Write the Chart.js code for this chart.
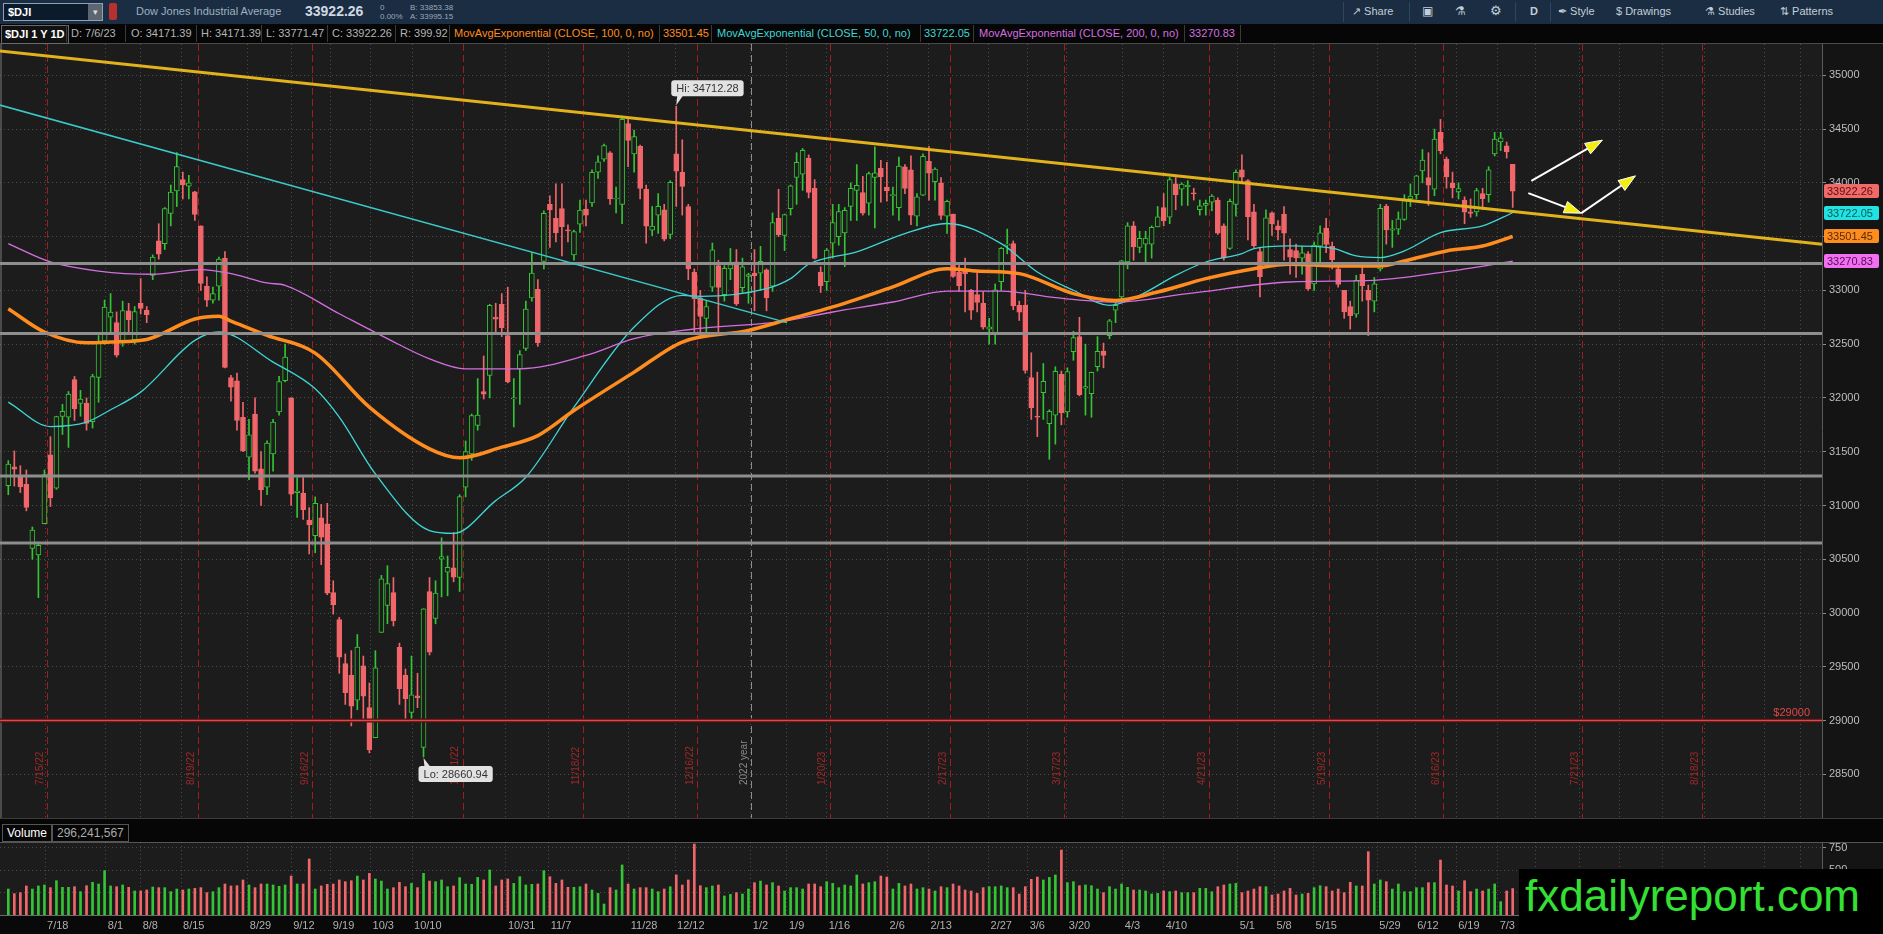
<!DOCTYPE html>
<html>
<head>
<meta charset="utf-8">
<title>$DJI 1 Y 1D</title>
<script src="https://cdn.jsdelivr.net/npm/chart.js@4.4.1/dist/chart.umd.min.js"></script>
<style>
  html, body { margin: 0; padding: 0; background: #000; }
  body { width: 1883px; height: 934px; overflow: hidden; position: relative; font-family: "Liberation Sans", Arial, sans-serif; }
  #toolbar { position: absolute; left: 0; top: 0; width: 1883px; height: 24px; background: #1a2d42; color: #c3cdd8; font-size: 11px; }
  #toolbar span, #toolbar div { position: absolute; white-space: nowrap; }
  .sym { left: 3px; top: 3px; width: 98px; height: 16px; background: #0c1b2b; border: 1px solid #8fa3b6; }
  .sym b { position: absolute; left: 4px; top: 2px; color: #fff; font-size: 11px; }
  .dd { right: 0; top: 0; width: 14px; height: 16px; background: #5d6670; color: #ddd; font-size: 9px; text-align: center; line-height: 16px; }
  .flag { left: 109px; top: 3px; width: 8px; height: 17px; background: #b8302f; border-radius: 2px; }
  .small { font-size: 8px; line-height: 9px; color: #9aa9b8; top: 3px; }
  .sep { top: 2px; width: 1px; height: 20px; background: #2e4660; }
  #hdr { position: absolute; left: 0; top: 24px; width: 1883px; height: 19px; background: #060606; border-bottom: 1px solid #4a4a4a; font-size: 11px; color: #b4b4b4; }
  #hdr span { position: absolute; top: 3px; white-space: nowrap; }
  #hdr i { position: absolute; top: 1px; width: 1px; height: 17px; background: #3a3a3a; }
  .titlebox { left: 1px !important; top: 1px !important; padding: 2px 3px; height: 13px; border: 1px solid #6a6a6a; color: #fff; font-weight: bold; background: #111; }
  #price { position: absolute; left: 0; top: 44px; }
  #volhdr { position: absolute; left: 0; top: 818px; width: 1883px; height: 24px; background: #060606; border-top: 1px solid #3c3c3c; }
  #volhdr span { position: absolute; top: 5px; height: 16px; line-height: 16px; font-size: 12px; padding: 0 4px; border: 1px solid #555; }
  #vol { position: absolute; left: 0; top: 842px; }
  #wm { position: absolute; left: 1519px; top: 869px; width: 364px; height: 65px; background: #000; }
  #wm span { position: absolute; left: 6px; top: 5px; font-size: 44px; line-height: 44px; color: #34e034; white-space: nowrap; }
</style>
</head>
<body>
<div id="toolbar">
  <div class="sym"><b>$DJI</b><div class="dd">&#9662;</div></div>
  <div class="flag"></div>
  <span style="left:136px; top:5px; color:#9fb0c0;">Dow Jones Industrial Average</span>
  <span style="left:305px; top:3px; font-size:14px; font-weight:bold; color:#cfd8e2;">33922.26</span>
  <span class="small" style="left:380px;">0<br>0.00%</span>
  <span class="small" style="left:410px;">B: 33853.38<br>A: 33995.15</span>
  <i class="sep" style="position:absolute; left:1343px;"></i>
  <span style="left:1352px; top:5px;">&#8599; Share</span>
  <i class="sep" style="position:absolute; left:1409px;"></i>
  <span style="left:1422px; top:4px; font-size:12px;">&#9635;</span>
  <span style="left:1455px; top:4px; font-size:12px;">&#9879;</span>
  <span style="left:1490px; top:3px; font-size:13px;">&#9881;</span>
  <i class="sep" style="position:absolute; left:1515px;"></i>
  <span style="left:1530px; top:5px; font-weight:bold;">D</span>
  <i class="sep" style="position:absolute; left:1550px;"></i>
  <span style="left:1558px; top:5px;">&#10002; Style</span>
  <span style="left:1616px; top:5px;">$ Drawings</span>
  <span style="left:1705px; top:5px;">&#9879; Studies</span>
  <span style="left:1780px; top:5px;">&#8645; Patterns</span>
</div>
<div id="hdr">
  <span class="titlebox">$DJI 1 Y 1D</span>
  <i style="left:66px"></i>
  <span style="left:71px">D: 7/6/23</span>
  <i style="left:125px"></i>
  <span style="left:131px">O: 34171.39</span>
  <i style="left:196px"></i>
  <span style="left:201px">H: 34171.39</span>
  <i style="left:261px"></i>
  <span style="left:266px">L: 33771.47</span>
  <i style="left:327px"></i>
  <span style="left:332px">C: 33922.26</span>
  <i style="left:395px"></i>
  <span style="left:400px">R: 399.92</span>
  <i style="left:449px"></i>
  <span style="left:454px; color:#ff8c1f">MovAvgExponential (CLOSE, 100, 0, no)</span>
  <i style="left:659px"></i>
  <span style="left:663px; color:#ff8c1f">33501.45</span>
  <i style="left:711px"></i>
  <span style="left:717px; color:#3fd6d6">MovAvgExponential (CLOSE, 50, 0, no)</span>
  <i style="left:920px"></i>
  <span style="left:924px; color:#3fd6d6">33722.05</span>
  <i style="left:973px"></i>
  <span style="left:979px; color:#d46ee0">MovAvgExponential (CLOSE, 200, 0, no)</span>
  <i style="left:1184px"></i>
  <span style="left:1189px; color:#d46ee0">33270.83</span>
  <i style="left:1240px"></i>
</div>
<canvas id="price" width="1883" height="774"></canvas>
<div id="volhdr">
  <span style="left:2px; color:#fff;">Volume</span>
  <span style="left:52px; color:#aaa;">296,241,567</span>
</div>
<canvas id="vol" width="1883" height="92"></canvas>
<div id="wm"><span>fxdailyreport.com</span></div>

<script>
// daily bars, 7/7/22 .. 7/6/23 (bar index = position in the arrays)
const opens = [
  31185, 31360, 31280, 31200, 30600, 30540, 30830, 31470, 31160, 31827,
  31820, 32170, 31950, 31950, 31780, 32190, 32530, 32750, 32700, 32520,
  32810, 32540, 32880, 32815, 33140, 33460, 33435, 33715, 33926, 34030,
  33970, 33916, 33600, 33040, 32910, 33040, 33300, 32190, 32160, 31820,
  31450, 31850, 31340, 31170, 31480, 31870, 32160, 32000, 31120, 31116,
  30865, 30720, 30884, 30830, 30190, 29940, 29530, 29420, 29190, 29510,
  29120, 28840, 29820, 30070, 30190, 29680, 29420, 29075, 29230, 28750,
  30200, 29950, 30500, 30380, 30420, 30330, 31170, 31480, 31745, 32060,
  32210, 32750, 32870, 32580, 31990, 32270, 32460, 32930, 33010, 33270,
  33800, 33670, 33760, 33560, 33330, 33615, 33755, 33814, 34100, 34220,
  34280, 33850, 33800, 34550, 34270, 34340, 33940, 33560, 33700, 33750,
  33520, 34270, 34100, 33780, 33170, 32930, 32740, 33030, 33230, 32960,
  33200, 33265, 33025, 33130, 33160, 33160, 33190, 33040, 33670, 33510,
  33760, 34050, 34080, 34230, 33950, 33170, 33080, 33440, 33500, 33535,
  33780, 33930, 33910, 33810, 34050, 34134, 33960, 33880, 33770, 34150,
  34120, 33690, 33885, 34200, 34010, 34000, 33690, 33710, 33170, 33200,
  33000, 32960, 32880, 32640, 32600, 33080, 33420, 33435, 32860, 32860,
  32190, 31830, 32050, 31760, 31840, 32220, 31870, 32430, 32570, 32090,
  32040, 32290, 32435, 32580, 32815, 32940, 33265, 33600, 33400, 33430,
  33430, 33590, 33770, 33680, 33990, 33940, 33965, 33900, 33750, 33790,
  33820, 33840, 33600, 33390, 33800, 34120, 34020, 33730, 33360, 33250,
  33720, 33600, 33710, 33380, 33370, 33300, 33340, 33060, 33410, 33580,
  33410, 33200, 33000, 32850, 32780, 33150, 33000, 32900, 33200, 33785,
  33560, 33570, 33660, 33850, 33890, 34110, 34050, 33940, 34470, 34220,
  34000, 33915, 33840, 33730, 33730, 33900, 33890, 34270, 34380, 34345,
  34171.39
];
const highs = [
  31417, 31507, 31370, 31330, 30800, 30660, 31330, 31640, 31830, 31940,
  32060, 32200, 32070, 32000, 32220, 32580, 32910, 32970, 32800, 32900,
  32880, 32850, 33110, 32850, 33330, 33620, 33770, 33980, 34281, 34100,
  34070, 33920, 33600, 33125, 33030, 33310, 33360, 32210, 32230, 31960,
  31800, 32000, 31500, 31600, 31800, 32200, 32500, 32000, 31260, 31260,
  30980, 31080, 31010, 31020, 30300, 29960, 29620, 29650, 29800, 29600,
  29350, 29650, 30350, 30440, 30330, 29720, 29480, 29600, 29440, 30040,
  30330, 30300, 30700, 30530, 30750, 31100, 31600, 31850, 32180, 32390,
  32870, 32880, 32970, 33030, 32180, 32440, 32900, 33350, 33100, 33740,
  33880, 33990, 33990, 33610, 33560, 33840, 33840, 34120, 34250, 34360,
  34290, 33960, 34620, 34600, 34490, 34350, 33980, 33780, 33900, 33800,
  34020, 34712.28, 34400, 33800, 33200, 33000, 32900, 33440, 33280, 33230,
  33390, 33380, 33300, 33160, 33380, 33410, 33200, 33720, 33940, 33710,
  33980, 34280, 34320, 34260, 34030, 33220, 33390, 33800, 33800, 33770,
  34000, 34170, 34060, 34100, 34335, 34210, 34190, 33960, 34240, 34170,
  34250, 33900, 34270, 34340, 34140, 34050, 33840, 33710, 33260, 33300,
  33010, 33170, 32990, 32740, 33060, 33400, 33570, 33460, 32900, 33000,
  32420, 32240, 32320, 31890, 32290, 32250, 32280, 32620, 32750, 32500,
  32240, 32570, 32510, 32730, 32910, 33280, 33630, 33640, 33550, 33550,
  33600, 33780, 33900, 34050, 34050, 34000, 34020, 33950, 33840, 33840,
  33890, 33860, 33620, 33850, 34120, 34260, 34030, 33800, 33400, 33750,
  33730, 33650, 33780, 33480, 33430, 33410, 33360, 33450, 33600, 33670,
  33450, 33250, 33000, 32900, 33140, 33250, 33050, 33120, 33800, 33800,
  33650, 33730, 33890, 33990, 34070, 34310, 34280, 34500, 34590, 34240,
  34100, 34000, 33870, 33850, 33950, 33950, 34150, 34470, 34470, 34380,
  34171.39
];
const lows = [
  31100, 31180, 31120, 30950, 30500, 30143, 30830, 30990, 31150, 31660,
  31540, 31790, 31830, 31700, 31720, 31960, 32500, 32600, 32380, 32480,
  32600, 32500, 32780, 32700, 33100, 33290, 33380, 33600, 33780, 33850,
  33850, 33650, 33000, 32850, 32880, 32910, 32280, 31970, 31700, 31500,
  31240, 31300, 31000, 31100, 31320, 31840, 32150, 31000, 30890, 30870,
  30550, 30560, 30450, 30170, 29990, 29440, 29150, 28950, 29100, 29000,
  28700, 28840, 29820, 29900, 29880, 29150, 29010, 29000, 29120, 28660.94,
  29610, 29900, 30150, 30160, 30290, 30200, 31080, 31420, 31700, 31990,
  32000, 32600, 32570, 32140, 31730, 31940, 32440, 32900, 32480, 33200,
  33400, 33450, 33320, 33450, 33280, 33540, 33600, 33780, 34040, 34200,
  33800, 33720, 33620, 34150, 34100, 33850, 33440, 33510, 33530, 33460,
  33480, 33780, 33700, 33100, 32600, 32570, 32580, 32990, 32580, 32900,
  33100, 32860, 32980, 32880, 32810, 33000, 32810, 32990, 33500, 33370,
  33700, 33800, 33930, 33860, 33290, 32980, 33000, 33300, 33420, 33220,
  33650, 33650, 33700, 33700, 33580, 33820, 33830, 33700, 33650, 33900,
  33610, 33600, 33880, 33840, 33840, 33660, 33530, 33120, 32990, 32800,
  32730, 32800, 32640, 32500, 32500, 33000, 33340, 32820, 32720, 32230,
  31800, 31640, 31800, 31430, 31570, 31750, 31820, 32350, 32020, 31840,
  31820, 32250, 32280, 32550, 32700, 32900, 33200, 33280, 33350, 33250,
  33300, 33590, 33600, 33620, 33750, 33790, 33790, 33840, 33700, 33700,
  33740, 33520, 33280, 33380, 33690, 34000, 33470, 33400, 32940, 33240,
  33510, 33470, 33280, 33150, 33120, 33150, 33000, 33000, 33250, 33350,
  33200, 33030, 32740, 32640, 32750, 32900, 32580, 32800, 33180, 33430,
  33400, 33520, 33650, 33780, 33850, 34000, 33790, 33880, 34270, 33950,
  33860, 33850, 33620, 33680, 33690, 33750, 33820, 34250, 34300, 34230,
  33771.47
];
const closes = [
  31385, 31338, 31173, 30981, 30772, 30630, 31288, 31072, 31827, 31875,
  32036, 31899, 31990, 31762, 32198, 32529, 32845, 32798, 32397, 32813,
  32727, 32803, 32833, 32775, 33310, 33336, 33761, 33913, 34152, 33981,
  33999, 33707, 33064, 32910, 32970, 33292, 32283, 32099, 31791, 31510,
  31657, 31318, 31145, 31581, 31775, 32152, 32381, 31105, 31135, 30962,
  30822, 31020, 30706, 30184, 30077, 29590, 29260, 29135, 29684, 29226,
  28726, 29491, 30317, 30274, 29927, 29297, 29203, 29240, 29211, 30039,
  29635, 30186, 30524, 30424, 30333, 31083, 31500, 31837, 31840, 32034,
  32862, 32733, 32653, 32148, 32002, 32403, 32827, 33161, 32514, 33716,
  33748, 33537, 33593, 33554, 33547, 33746, 33700, 34098, 34195, 34347,
  33850, 33853, 34590, 34395, 34430, 33947, 33597, 33598, 33781, 33476,
  34005, 34108, 33966, 33203, 32920, 32757, 32850, 33376, 33027, 33204,
  33241, 32875, 33220, 33147, 33136, 33270, 32930, 33631, 33517, 33704,
  33973, 34190, 34303, 33910, 33297, 33044, 33375, 33630, 33733, 33744,
  33949, 33978, 33717, 34086, 34093, 34054, 33926, 33891, 34156, 33949,
  33699, 33869, 34246, 34089, 34128, 33697, 33827, 33130, 33045, 33154,
  32817, 32889, 32657, 32662, 33004, 33391, 33431, 32856, 32798, 32255,
  31910, 31820, 32155, 31875, 32247, 31862, 32245, 32561, 32031, 32106,
  32238, 32433, 32395, 32718, 32860, 33274, 33601, 33403, 33483, 33486,
  33587, 33685, 33647, 34030, 33887, 33988, 33977, 33897, 33787, 33809,
  33876, 33531, 33302, 33827, 34098, 34052, 33684, 33415, 33128, 33674,
  33619, 33562, 33531, 33309, 33301, 33349, 33013, 33421, 33536, 33427,
  33286, 33056, 32800, 32765, 33093, 33043, 32908, 33062, 33763, 33563,
  33573, 33665, 33834, 33877, 34066, 34212, 33979, 34408, 34299, 34054,
  33952, 33947, 33727, 33715, 33927, 33853, 34122, 34408, 34418, 34288,
  33922.26
];
// volume in millions
const volumes = [
  291, 239, 250, 325, 291, 325, 336, 306, 384, 310,
  310, 317, 261, 328, 366, 347, 496, 325, 317, 336,
  310, 269, 269, 280, 313, 306, 306, 261, 291, 280,
  291, 298, 306, 250, 261, 306, 347, 325, 328, 392,
  336, 306, 347, 347, 336, 321, 336, 436, 347, 347,
  627, 291, 325, 343, 347, 392, 373, 384, 436, 392,
  466, 403, 380, 291, 306, 366, 317, 354, 306, 466,
  380, 373, 392, 317, 325, 418, 347, 343, 421, 392,
  504, 325, 392, 403, 354, 429, 336, 343, 347, 496,
  429, 354, 392, 310, 310, 317, 347, 280, 242, 123,
  306, 280, 560, 347, 291, 306, 306, 291, 261, 291,
  317, 448, 336, 392, 794, 328, 306, 325, 336, 213,
  231, 250, 235, 291, 362, 380, 336, 362, 325, 269,
  306, 306, 291, 347, 347, 317, 373, 354, 306, 336,
  325, 448, 347, 362, 373, 436, 425, 291, 354, 325,
  347, 291, 306, 291, 269, 317, 306, 347, 325, 280,
  269, 242, 306, 317, 317, 325, 306, 306, 235, 317,
  399, 425, 392, 421, 448, 727, 362, 373, 328, 336,
  328, 291, 250, 317, 291, 347, 310, 280, 280, 269,
  235, 242, 269, 261, 269, 250, 250, 250, 298, 298,
  261, 317, 336, 347, 354, 250, 269, 291, 317, 317,
  224, 235, 269, 298, 224, 235, 242, 306, 328, 317,
  269, 291, 250, 366, 325, 325, 709, 347, 392, 373,
  291, 347, 261, 261, 306, 306, 362, 362, 615, 336,
  325, 269, 384, 261, 291, 269, 291, 347, 149, 269,
  296
];

// studies as [bar, value]
const ema50Pts = [[0,31961],[7,31734],[13,31775],[17,31890],[22,32054],[31,32535],[35,32613],[44,32333],[51,32085],[55,31821],[61,31293],[70,30766],[74,30740],[81,31045],[86,31262],[94,31914],[104,32659],[112,32954],[115,32945],[126,33016],[130,33109],[133,33243],[141,33358],[149,33528],[156,33622],[165,33435],[171,33171],[177,33001],[183,32861],[188,32954],[194,33140],[199,33264],[205,33342],[207,33389],[213,33414],[220,33392],[224,33320],[228,33305],[232,33367],[238,33537],[245,33600],[250,33722.05]];
const ema100Pts = [[0,32830],[6,32613],[13,32513],[17,32520],[23,32544],[31,32734],[35,32759],[37,32715],[43,32582],[51,32417],[60,31914],[70,31526],[75,31443],[82,31542],[88,31650],[94,31883],[104,32240],[112,32520],[123,32628],[130,32737],[137,32846],[147,33032],[156,33202],[161,33181],[168,33156],[177,32970],[184,32907],[191,32985],[199,33109],[207,33202],[213,33243],[221,33227],[228,33227],[232,33274],[239,33367],[245,33413],[250,33501.45]];
const ema200Pts = [[0,33435],[7,33265],[15,33180],[24,33150],[32,33193],[37,33156],[43,33069],[46,33047],[55,32783],[63,32551],[70,32364],[76,32271],[85,32271],[96,32395],[104,32551],[113,32634],[129,32715],[137,32799],[147,32892],[156,32994],[165,32994],[174,32932],[184,32892],[196,32970],[213,33078],[227,33094],[239,33174],[250,33270.83]];

// drawings on the chart
const yellowTrend = [[-1.4, 35227], [301.4, 33430]];
const cyanTrend = [[-1.4, 34723], [129.4, 32700]];
const greyLevels = [33250, 32600, 31275, 30650];
const redLevel = 29000;
const arrowLines = [[[253.1, 34019], [264.9, 34397]], [[252.6, 33904], [261.4, 33718]], [[261.4, 33718], [270.4, 34065]]];

// axes
const tickLabels = ['7/18','8/1','8/8','8/15','8/29','9/12','9/19','10/3','10/10','10/31','11/7','11/28','12/12','1/2','1/9','1/16','2/6','2/13','2/27','3/6','3/20','4/3','4/10','5/1','5/8','5/15','5/29','6/12','6/19','7/3'];
const tickBars = [6.1,16.2,22.0,28.7,39.8,47.0,53.6,60.2,67.1,82.7,89.8,103.1,110.8,123.4,129.4,136.0,146.1,152.9,162.9,169.4,175.9,185.2,192.0,204.3,210.4,216.9,227.5,233.8,240.6,247.5];
const futureGridBars = [253.8, 261.1, 267.7, 274.9, 281.8, 291.8, 297.8];
const priceTicks = [28500, 29000, 29500, 30000, 30500, 31000, 31500, 32000, 32500, 33000, 33500, 34000, 34500, 35000];
const volumeTicks = [250, 500, 750];
const expiryBars = [6, 31, 50, 75, 95, 114, 136, 156, 175, 199, 219, 238, 261, 281];
const expiryLabels = ['7/15/22','8/19/22','9/16/22','10/21/22','11/18/22','12/16/22','1/20/23','2/17/23','3/17/23','4/21/23','5/19/23','6/16/23','7/21/23','8/18/23'];
const yearBar = 123.5;
const lastValues = [33922.26, 33722.05, 33501.45, 33270.83];

const X_MIN = -1.38, X_MAX = 301.4;
const PRICE_MIN = 28094, PRICE_MAX = 35291;
const VOL_MAX = 817;
const PLOT_BG = '#1c1c1c', AXIS_BG = '#141414';
const GREEN = '#35c435', RED = '#f0666a';
const GRID = 'rgba(170,170,170,0.32)';
const FONT = '"Liberation Sans", Arial, sans-serif';

document.addEventListener('DOMContentLoaded', function() {
    loadPriceChart();
    loadVolumeChart();
});

function isUp(i) {
    return closes[i] >= opens[i];
}

function toXY(points) {
    return points.map(p => ({ x: p[0], y: p[1] }));
}

function gridTicks() {
    return tickBars.concat(futureGridBars);
}

function fixedAxisWidth(scale) {
    scale.width = 61;
    scale.paddingTop = 0;
    scale.paddingBottom = 0;
}

function drawArrow(ctx, x0, y0, x1, y1) {
    const ang = Math.atan2(y1 - y0, x1 - x0);
    const len = 17, half = 6;
    const bx = x1 - len * Math.cos(ang), by = y1 - len * Math.sin(ang);
    ctx.strokeStyle = '#ffffff';
    ctx.lineWidth = 2;
    ctx.beginPath(); ctx.moveTo(x0, y0); ctx.lineTo(bx, by); ctx.stroke();
    ctx.beginPath();
    ctx.moveTo(x1, y1);
    ctx.lineTo(bx + half * Math.sin(ang), by - half * Math.cos(ang));
    ctx.lineTo(bx - half * Math.sin(ang), by + half * Math.cos(ang));
    ctx.closePath();
    ctx.fillStyle = '#f4ee10';
    ctx.fill();
    ctx.lineWidth = 1;
    ctx.stroke();
}

function drawCallout(ctx, text, ax, ay, above) {
    ctx.font = '11px ' + FONT;
    const w = ctx.measureText(text).width + 10, h = 16;
    const left = ax - 5;
    const top = above ? ay - 10 - h : ay + 9;
    ctx.fillStyle = '#e2e2e2';
    ctx.beginPath(); ctx.roundRect(left, top, w, h, 3); ctx.fill();
    ctx.beginPath();
    if (above) { ctx.moveTo(left + 6, top + h - 1); ctx.lineTo(ax, ay - 1); ctx.lineTo(left + 12, top + h - 1); }
    else { ctx.moveTo(left + 6, top + 1); ctx.lineTo(ax, ay + 1); ctx.lineTo(left + 12, top + 1); }
    ctx.fill();
    ctx.fillStyle = '#333';
    ctx.textAlign = 'left';
    ctx.textBaseline = 'middle';
    ctx.fillText(text, left + 5, top + h / 2 + 1);
}

const priceExtras = {
    id: 'priceExtras',
    beforeDraw(chart) {
        const { ctx, chartArea: a } = chart;
        ctx.save();
        ctx.fillStyle = PLOT_BG;
        ctx.fillRect(a.left, a.top, a.right - a.left, a.bottom - a.top);
        ctx.fillStyle = AXIS_BG;
        ctx.fillRect(a.right, 0, chart.width - a.right, chart.height);
        ctx.fillStyle = '#4a4a4a';
        ctx.fillRect(0, a.top, 2, a.bottom - a.top);
        ctx.restore();
    },
    beforeDatasetsDraw(chart) {
        const { ctx, chartArea: a, scales: { x } } = chart;
        ctx.save();
        ctx.beginPath(); ctx.rect(a.left, a.top, a.right - a.left, a.bottom - a.top); ctx.clip();
        ctx.lineWidth = 1;
        ctx.setLineDash([7, 4]);
        ctx.strokeStyle = '#9c1e1e';
        expiryBars.forEach(b => {
            const px = Math.round(x.getPixelForValue(b + 0.5)) + 0.5;
            ctx.beginPath(); ctx.moveTo(px, a.top); ctx.lineTo(px, a.bottom); ctx.stroke();
        });
        ctx.strokeStyle = '#8c8c8c';
        const yx = Math.round(x.getPixelForValue(yearBar)) + 0.5;
        ctx.beginPath(); ctx.moveTo(yx, a.top); ctx.lineTo(yx, a.bottom); ctx.stroke();
        ctx.setLineDash([]);
        ctx.font = '10px ' + FONT;
        ctx.textAlign = 'left';
        ctx.textBaseline = 'bottom';
        const rotLabel = (text, px, color) => {
            ctx.save();
            ctx.translate(px - 2, a.bottom - 33);
            ctx.rotate(-Math.PI / 2);
            ctx.fillStyle = color;
            ctx.fillText(text, 0, 0);
            ctx.restore();
        };
        expiryBars.forEach((b, i) => rotLabel(expiryLabels[i], x.getPixelForValue(b + 0.5), '#a02828'));
        rotLabel('2022 year', yx, '#8a8a8a');
        ctx.restore();
    },
    afterDatasetsDraw(chart) {
        const { ctx, chartArea: a, scales: { x, y } } = chart;
        ctx.save();
        arrowLines.forEach(l => drawArrow(ctx, x.getPixelForValue(l[0][0]), y.getPixelForValue(l[0][1]),
                                              x.getPixelForValue(l[1][0]), y.getPixelForValue(l[1][1])));
        const hiBar = highs.indexOf(Math.max(...highs));
        const loBar = lows.indexOf(Math.min(...lows));
        drawCallout(ctx, 'Hi: ' + highs[hiBar].toFixed(2), x.getPixelForValue(hiBar), y.getPixelForValue(highs[hiBar]), true);
        drawCallout(ctx, 'Lo: ' + lows[loBar].toFixed(2), x.getPixelForValue(loBar), y.getPixelForValue(lows[loBar]), false);

        ctx.font = '11px ' + FONT;
        ctx.fillStyle = '#e04848';
        ctx.textAlign = 'right';
        ctx.textBaseline = 'bottom';
        ctx.fillText('$' + redLevel, a.right - 12, y.getPixelForValue(redLevel) - 2);

        const tagBg = ['#f06a6a', '#22e2e2', '#ff8c1f', '#f070f0'];
        const tagFg = ['#5a0c0c', '#045a5a', '#5a2a00', '#5a0a5a'];
        ctx.textAlign = 'left';
        ctx.textBaseline = 'middle';
        lastValues.forEach((v, i) => {
            const py = Math.round(y.getPixelForValue(v));
            ctx.fillStyle = tagBg[i];
            ctx.beginPath(); ctx.roundRect(a.right + 2, py - 7, 55, 14, 2); ctx.fill();
            ctx.fillStyle = tagFg[i];
            ctx.fillText(v.toFixed(2), a.right + 5, py + 1);
        });
        ctx.restore();
    }
};

function loadPriceChart() {
    const ctx = document.getElementById('price');
    if (!ctx) return;

    const bars = closes.map((c, i) => i);
    const lineSet = (points, color, width, order) => ({
        type: 'line', data: toXY(points), borderColor: color, borderWidth: width,
        pointRadius: 0, fill: false, order: order
    });

    new Chart(ctx, {
        type: 'bar',
        data: {
            datasets: [
                lineSet(yellowTrend, '#e2b21c', 3, 1),
                lineSet(cyanTrend, '#3cc8c8', 1.5, 1),
                ...greyLevels.map(v => lineSet([[X_MIN, v], [X_MAX, v]], '#8e8e8e', 3, 2)),
                lineSet([[X_MIN, redLevel], [X_MAX, redLevel]], '#e04848', 1.5, 2),
                lineSet([[X_MIN, redLevel], [X_MAX, redLevel]], '#4a1212', 4, 2.5),
                Object.assign(lineSet(ema200Pts, '#d46ee0', 1.3, 4), { cubicInterpolationMode: 'monotone' }),
                Object.assign(lineSet(ema50Pts, '#3fd6d6', 1.3, 4), { cubicInterpolationMode: 'monotone' }),
                Object.assign(lineSet(ema100Pts, '#ff8c1f', 3.5, 3), { cubicInterpolationMode: 'monotone' }),
                {
                    label: 'wicks',
                    data: bars.map(i => ({ x: i, y: [lows[i], highs[i]] })),
                    backgroundColor: bars.map(i => isUp(i) ? GREEN : RED),
                    barThickness: 1,
                    grouped: false,
                    order: 10
                },
                {
                    label: 'bodies',
                    data: bars.map(i => ({ x: i, y: [opens[i], closes[i]] })),
                    backgroundColor: bars.map(i => isUp(i) ? PLOT_BG : RED),
                    borderColor: bars.map(i => isUp(i) ? GREEN : RED),
                    borderWidth: 1,
                    borderSkipped: false,
                    barThickness: 5,
                    minBarLength: 1,
                    grouped: false,
                    order: 9
                }
            ]
        },
        options: {
            responsive: false,
            animation: false,
            devicePixelRatio: 1,
            layout: { padding: 0 },
            plugins: { legend: { display: false }, tooltip: { enabled: false } },
            scales: {
                x: {
                    type: 'linear', min: X_MIN, max: X_MAX, offset: false,
                    afterBuildTicks: s => { s.ticks = gridTicks().map(v => ({ value: v })); },
                    afterFit: s => { s.height = 0; s.paddingLeft = 0; s.paddingRight = 0; },
                    ticks: { display: false },
                    grid: { color: GRID, drawTicks: false, offset: false },
                    border: { display: false, dash: [1, 3] }
                },
                y: {
                    position: 'right', min: PRICE_MIN, max: PRICE_MAX,
                    afterBuildTicks: s => { s.ticks = priceTicks.map(v => ({ value: v })); },
                    afterFit: fixedAxisWidth,
                    ticks: { color: '#bdbdbd', font: { size: 11, family: FONT }, padding: 3, callback: v => String(v) },
                    grid: { color: GRID, tickColor: '#8a8a8a', tickLength: 4, tickBorderDash: [] },
                    border: { display: true, color: '#5a5a5a', dash: [1, 3] }
                }
            }
        },
        plugins: [priceExtras]
    });
}

const volumeExtras = {
    id: 'volumeExtras',
    beforeDraw(chart) {
        const { ctx, chartArea: a } = chart;
        ctx.save();
        ctx.fillStyle = '#090909';
        ctx.fillRect(0, 0, chart.width, chart.height);
        ctx.fillStyle = PLOT_BG;
        ctx.fillRect(a.left, a.top, a.right - a.left, a.bottom - a.top);
        ctx.fillStyle = AXIS_BG;
        ctx.fillRect(a.right, a.top, chart.width - a.right, a.bottom - a.top);
        ctx.fillStyle = '#555';
        ctx.fillRect(0, a.top, chart.width, 1);
        ctx.restore();
    }
};

function loadVolumeChart() {
    const ctx = document.getElementById('vol');
    if (!ctx) return;

    const bars = volumes.map((v, i) => i);
    new Chart(ctx, {
        type: 'bar',
        data: {
            datasets: [{
                label: 'Volume',
                data: bars.map(i => ({ x: i, y: volumes[i] })),
                backgroundColor: bars.map(i => isUp(i) ? GREEN : RED),
                barThickness: 2,
                grouped: false
            }]
        },
        options: {
            responsive: false,
            animation: false,
            devicePixelRatio: 1,
            layout: { padding: 0 },
            plugins: { legend: { display: false }, tooltip: { enabled: false } },
            scales: {
                x: {
                    type: 'linear', min: X_MIN, max: X_MAX, offset: false,
                    afterBuildTicks: s => { s.ticks = gridTicks().map(v => ({ value: v })); },
                    afterFit: s => { s.height = 19; s.paddingLeft = 0; s.paddingRight = 0; },
                    ticks: {
                        color: '#b0b0b0', font: { size: 11, family: FONT }, padding: 4,
                        autoSkip: false, maxRotation: 0, align: 'start', labelOffset: 2,
                        callback: (v, i) => i < tickLabels.length ? tickLabels[i] : ''
                    },
                    grid: { color: GRID, drawTicks: false, offset: false },
                    border: { display: true, color: '#6a6a6a', dash: [1, 3] }
                },
                y: {
                    position: 'right', min: 0, max: VOL_MAX,
                    afterBuildTicks: s => { s.ticks = volumeTicks.map(v => ({ value: v })); },
                    afterFit: fixedAxisWidth,
                    ticks: { color: '#bdbdbd', font: { size: 11, family: FONT }, padding: 3, callback: v => String(v) },
                    grid: { color: GRID, tickColor: '#8a8a8a', tickLength: 4 },
                    border: { display: true, color: '#5a5a5a', dash: [1, 3] }
                }
            }
        },
        plugins: [volumeExtras]
    });
}
</script>
</body>
</html>
